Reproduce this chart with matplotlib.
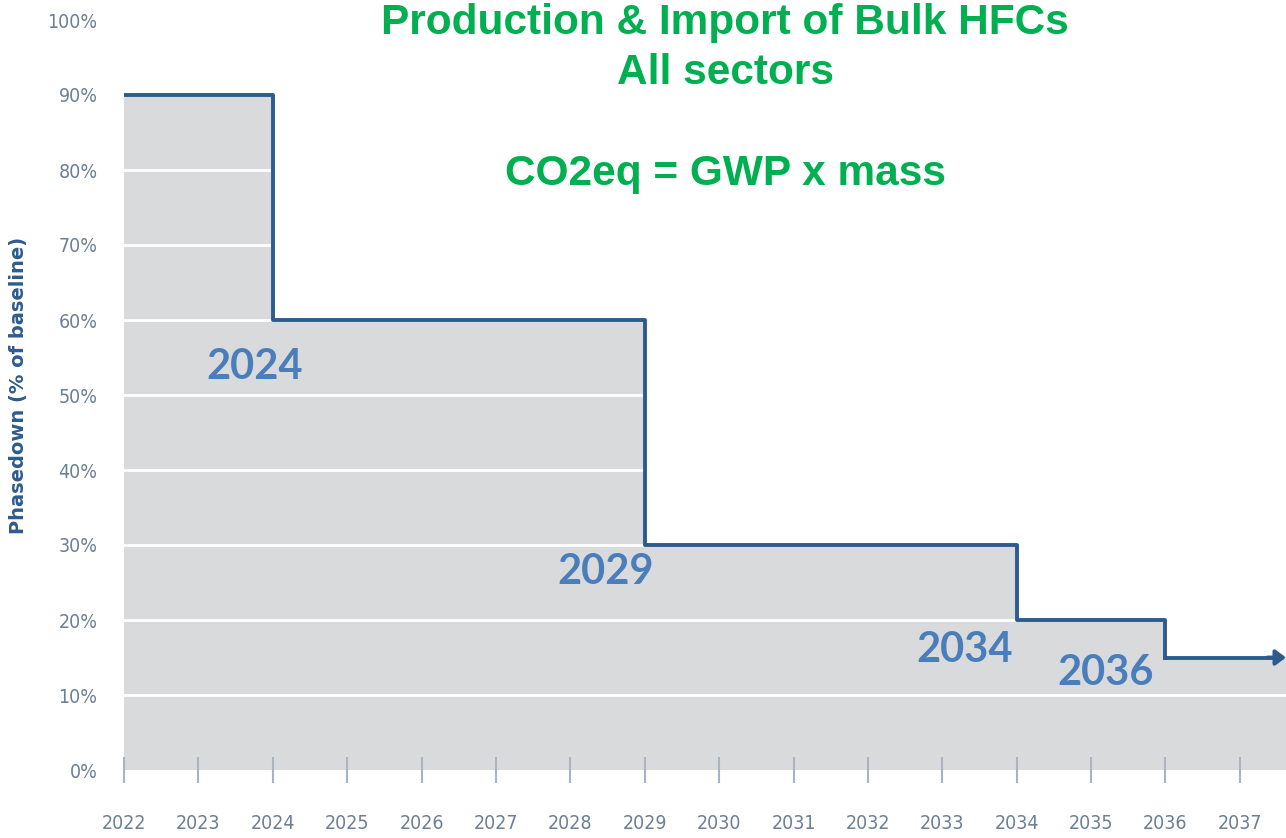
import matplotlib.pyplot as plt
import numpy as np
from matplotlib import font_manager

# step schedule: year the level starts, level (% of baseline)
step_years = [2022, 2024, 2029, 2034, 2036]
step_levels = [90, 60, 30, 20, 15]
x_end = 2037.62

tick_years = list(range(2022, 2038))
y_ticks = list(range(0, 101, 10))

# annotated step years and text offsets (years, %)
label_years = [2024, 2029, 2034, 2036]
label_offsets = [(-0.24, -6.3), (-0.52, -3.6), (-0.70, -4.0), (-0.81, -2.1)]

title_lines = ["Production & Import of Bulk HFCs", "All sectors", "CO2eq = GWP x mass"]

LINE_C = "#2e5b8e"
LABEL_C = "#4a7ebb"
GREEN = "#00b050"
TICK_C = "#6b7f95"

cond = [f for f in font_manager.fontManager.ttflist
        if f.name == "DejaVu Sans" and f.stretch == "condensed" and f.weight == 400
        and f.style == "normal"]
if cond:
    tick_font = font_manager.FontProperties(fname=cond[0].fname, size=14)
else:
    tick_font = font_manager.FontProperties(family="DejaVu Sans", size=12.5)

fig = plt.figure(figsize=(12.86, 8.38), dpi=100)
ax = fig.add_axes([124 / 1286, 68 / 838, 1 - 124 / 1286, 750 / 838])

xs = np.array(step_years + [x_end], dtype=float)
ys = np.array(step_levels + [step_levels[-1]], dtype=float)

ax.fill_between(xs, 0, ys, step="post", color="#d9dadc", lw=0, zorder=1)
for y in y_ticks[1:-1]:
    ax.axhline(y, color="white", lw=2, zorder=2)
ax.step(xs[:-1], ys[:-1], where="post", color=LINE_C, lw=2.8, zorder=3)
ax.plot([xs[-2], x_end - 0.15], [ys[-1], ys[-1]], color=LINE_C, lw=2.8, zorder=3)
ax.annotate("", xy=(x_end, ys[-1]), xytext=(x_end - 0.25, ys[-1]),
            arrowprops=dict(arrowstyle="-|>,head_length=0.6,head_width=0.45",
                            color=LINE_C, lw=2.8, shrinkA=0, shrinkB=0),
            zorder=4, annotation_clip=False)

for yr, (dx, dy) in zip(label_years, label_offsets):
    lvl = step_levels[step_years.index(yr)]
    ax.text(yr + dx, lvl + dy, str(yr), color=LABEL_C, fontsize=30,
            fontweight="bold", family="Lato", ha="center", va="center", zorder=5)

ax.set_xlim(2022, x_end)
ax.set_ylim(0, 100)
ax.set_xticks(tick_years)
ax.set_xticklabels([str(t) for t in tick_years], fontproperties=tick_font, color=TICK_C)
ax.set_yticks(y_ticks)
ax.set_yticklabels([f"{t}%" for t in y_ticks], fontproperties=tick_font, color=TICK_C)
ax.tick_params(axis="x", direction="inout", length=19, width=1.5, color="#a9b4c2", pad=22)
ax.tick_params(axis="y", length=0, pad=19)
for s in ax.spines.values():
    s.set_visible(False)

fig.text(19 / 1286, 1 - 385 / 838, "Phasedown (% of baseline)", rotation=90,
         color=LINE_C, fontsize=14, fontweight="bold", ha="center", va="center")

for line, ypx in zip(title_lines, [23, 73, 174]):
    fig.text(725 / 1286, 1 - ypx / 838, line, color=GREEN, fontsize=30.5,
             fontweight="bold", family="Liberation Sans", ha="center", va="center")

fig.savefig("out.png", dpi=100)
